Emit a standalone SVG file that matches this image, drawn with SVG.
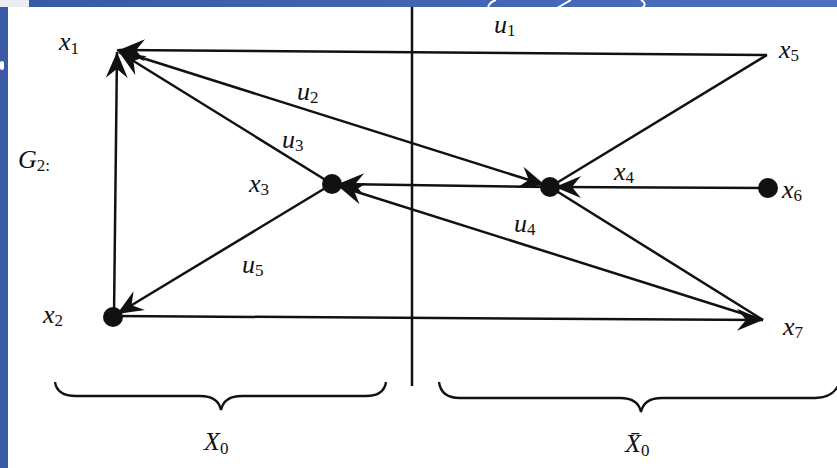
<svg xmlns="http://www.w3.org/2000/svg" width="837" height="468" viewBox="0 0 837 468">
<defs>
<linearGradient id="bar" x1="0" y1="0" x2="1" y2="0">
<stop offset="0" stop-color="#3a5aa6"/>
<stop offset="1" stop-color="#4a70be"/>
</linearGradient>
<marker id="ah" markerUnits="userSpaceOnUse" markerWidth="32" markerHeight="26" viewBox="-28 -13 32 26" refX="0" refY="0" orient="auto">
<path d="M0,0 L-26,-11 L-17,0 L-26,11 Z" fill="#111"/>
</marker>
<style>
.e{stroke:#111;stroke-width:2.5;fill:none}
.a{marker-end:url(#ah)}
.d{fill:#111}
.t{font-family:"Liberation Serif",serif;font-style:italic;font-size:26px;fill:#111}
.s{font-family:"Liberation Serif",serif;font-style:normal;font-size:17px;fill:#111}
.br{stroke:#111;stroke-width:2.3;fill:none}
.deco{stroke:#fff;stroke-width:2;fill:none}
</style>
</defs>
<rect width="837" height="468" fill="#fff"/>
<rect x="0" y="0" width="29" height="7" fill="#ecedf0"/>
<rect x="29" y="0" width="808" height="7" fill="url(#bar)"/>
<rect x="0" y="7" width="8" height="461" fill="#3a5aa6"/>
<rect x="0" y="61" width="4" height="9" rx="2" fill="#fff"/>
<path class="deco" d="M488,8 Q489,2 496,0"/>
<path class="deco" d="M557,8 L571,0"/>
<path class="deco" d="M641,0 Q648,4 642,8"/>

<g id="divider"><line class="e" x1="412" y1="7" x2="412" y2="386"/></g>

<g id="connectors">
<line class="e a" x1="767" y1="55" x2="119" y2="50"/>
<line class="e a" x1="114" y1="316" x2="117" y2="52"/>
<line class="e a" x1="332" y1="184" x2="119" y2="52"/>
<line class="e a" x1="117" y1="50" x2="545" y2="185"/>
<line class="e" x1="767" y1="55" x2="550" y2="187"/>
<line class="e a" x1="768" y1="188" x2="555" y2="187"/>
<line class="e a" x1="550" y1="187" x2="338" y2="184"/>
<line class="e a" x1="763" y1="320" x2="338" y2="186"/>
<line class="e" x1="550" y1="187" x2="763" y2="320"/>
<line class="e a" x1="332" y1="184" x2="117" y2="314"/>
<line class="e a" x1="114" y1="316" x2="763" y2="320"/>
</g>

<g id="x1"><text class="t" x="59" y="50">x<tspan class="s" dy="4">1</tspan></text></g>
<g id="x2"><circle class="d" cx="113" cy="317" r="10"/><text class="t" x="43" y="323">x<tspan class="s" dy="3">2</tspan></text></g>
<g id="x3"><circle class="d" cx="332" cy="184" r="10"/><text class="t" x="249" y="192">x<tspan class="s" dy="3">3</tspan></text></g>
<g id="x4"><circle class="d" cx="550" cy="187" r="10"/><text class="t" x="614" y="180">x<tspan class="s" dy="3">4</tspan></text></g>
<g id="x5"><text class="t" x="779" y="58">x<tspan class="s" dy="3">5</tspan></text></g>
<g id="x6"><circle class="d" cx="768" cy="188" r="10"/><text class="t" x="782" y="198">x<tspan class="s" dy="3">6</tspan></text></g>
<g id="x7"><text class="t" x="783" y="335">x<tspan class="s" dy="3">7</tspan></text></g>

<g id="edge-labels">
<text class="t" x="494" y="33">u<tspan class="s" dy="3">1</tspan></text>
<text class="t" x="297" y="100">u<tspan class="s" dy="3">2</tspan></text>
<text class="t" x="282" y="148">u<tspan class="s" dy="3">3</tspan></text>
<text class="t" x="514" y="232">u<tspan class="s" dy="3">4</tspan></text>
<text class="t" x="242" y="273">u<tspan class="s" dy="3">5</tspan></text>
<text class="t" x="18" y="168">G<tspan class="s" dy="3">2:</tspan></text>
</g>

<g id="braces">
<path class="br" d="M55,382 Q57,396 76,396 L200,396 Q218,396 221,410 Q224,396 242,396 L366,396 Q384,396 386,382"/>
<path class="br" d="M439,382 Q441,398 460,398 L620,398 Q638,398 641,412 Q644,398 662,398 L815,398 Q834,398 840,382"/>
<text class="t" x="204" y="450">X<tspan class="s" dy="4">0</tspan></text>
<text class="t" x="625" y="452">X̄<tspan class="s" dy="4">0</tspan></text>
</g>
</svg>
